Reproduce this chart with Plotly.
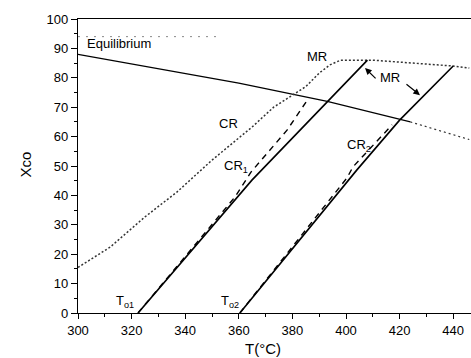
import plotly.graph_objects as go

# ---- data ----
eq_T_solid = [300, 360, 393, 424]
eq_X_solid = [88, 78.2, 72, 65]
eq_T_dot = [424, 446]
eq_X_dot = [65, 59]

cr_T = [300, 312, 325, 337, 350, 365, 373, 379, 385, 390, 394, 398, 410, 425, 440, 446]
cr_X = [15.5, 22.4, 32.7, 41.2, 52, 63.3, 70, 73.5, 77, 81.6, 84.4, 86, 86, 85, 84, 83.3]

mr1_T = [322.4, 364.9, 393, 408]
mr1_X = [0, 45.2, 71.8, 86]
mr2_T = [360.4, 404, 420, 440]
mr2_X = [0, 48.6, 65.6, 84]

cr1_T = [322.4, 349, 358.6, 364.6, 378, 386]
cr1_X = [0, 29.3, 39.5, 48, 62.2, 73]
cr2_T = [360.4, 393, 400.4, 402.6, 417.2]
cr2_X = [0, 37.8, 46, 49.7, 64]

noise_T = [300, 352]
noise_X = [94, 94]

x_ticks = [300, 320, 340, 360, 380, 400, 420, 440]
y_ticks = [0, 10, 20, 30, 40, 50, 60, 70, 80, 90, 100]

FONT = "Liberation Sans, Arial, sans-serif"

fig = go.Figure()
fig.add_trace(go.Scatter(x=noise_T, y=noise_X, mode="lines",
                         line=dict(color="#888", width=1, dash="2px,6px")))
fig.add_trace(go.Scatter(x=eq_T_solid, y=eq_X_solid, mode="lines",
                         line=dict(color="black", width=1.2)))
fig.add_trace(go.Scatter(x=eq_T_dot, y=eq_X_dot, mode="lines",
                         line=dict(color="#333", width=1.2, dash="2px,3px")))
fig.add_trace(go.Scatter(x=cr_T, y=cr_X, mode="lines",
                         line=dict(color="#333", width=1.5, dash="2px,2px")))
fig.add_trace(go.Scatter(x=mr1_T, y=mr1_X, mode="lines",
                         line=dict(color="black", width=1.6)))
fig.add_trace(go.Scatter(x=mr2_T, y=mr2_X, mode="lines",
                         line=dict(color="black", width=1.6)))
fig.add_trace(go.Scatter(x=cr1_T, y=cr1_X, mode="lines",
                         line=dict(color="black", width=1.4, dash="6px,5px")))
fig.add_trace(go.Scatter(x=cr2_T, y=cr2_X, mode="lines",
                         line=dict(color="black", width=1.4, dash="6px,5px")))

tf = dict(family=FONT, size=13, color="black")
ttf = dict(family=FONT, size=15, color="black")
ann = [
    dict(x=302.5, y=91.5, text="Equilibrium", xanchor="left", yanchor="middle", font=tf),
    dict(x=389.2, y=87.1, text="MR", font=tf),
    dict(x=416.4, y=80.0, text="MR", font=tf),
    dict(x=356, y=64.6, text="CR", font=tf),
    dict(x=359, y=49.7, text="CR<sub>1</sub>", font=tf),
    dict(x=404.9, y=57.1, text="CR<sub>2</sub>", font=tf),
    dict(x=317.5, y=3.8, text="T<sub>o1</sub>", font=tf),
    dict(x=356.7, y=3.8, text="T<sub>o2</sub>", font=tf),
]
for a in ann:
    a.update(xref="x", yref="y", showarrow=False)
    a.setdefault("xanchor", "center")
    a.setdefault("yanchor", "middle")

arrows = [
    dict(x=407.1, y=83.3, ax=411.6, ay=79.3),
    dict(x=427.6, y=74.1, ax=422.0, ay=78.2),
]
for a in arrows:
    a.update(xref="x", yref="y", axref="x", ayref="y", text="", showarrow=True,
             arrowhead=2, arrowsize=1.1, arrowwidth=1.2, arrowcolor="black")

titles = [
    dict(xref="paper", yref="paper", x=(24.5 - 78) / 393, y=(313 - 165) / 294,
         xanchor="center", yanchor="middle",
         text="Xco", textangle=-90, showarrow=False, font=ttf),
    dict(xref="paper", yref="paper", x=(262.5 - 78) / 393, y=(313 - 348) / 294,
         xanchor="center", yanchor="middle",
         text="T(°C)", showarrow=False, font=ttf),
]

fig.update_layout(
    width=471, height=358,
    margin=dict(l=78, r=0, t=19, b=45, autoexpand=False),
    paper_bgcolor="white", plot_bgcolor="white",
    showlegend=False,
    font=dict(family=FONT, size=13, color="black"),
    annotations=ann + arrows + titles,
    xaxis=dict(range=[300, 300 + (471 - 78) / 2.68], tickvals=x_ticks,
               showgrid=False, zeroline=False, showline=True, linecolor="black",
               linewidth=1.3, mirror=True, ticks="outside", ticklen=5,
               tickcolor="black", tickfont=tf,
               minor=dict(dtick=10, tick0=300, ticks="outside", ticklen=3, tickcolor="black")),
    yaxis=dict(range=[0, 100], tickvals=y_ticks,
               showgrid=False, zeroline=False, showline=True, linecolor="black",
               linewidth=1.3, ticks="outside", ticklen=6,
               tickcolor="black", tickfont=tf,
               minor=dict(dtick=5, ticks="outside", ticklen=3, tickcolor="black")),
)

fig.write_html(
    "out.html",
    config={"displayModeBar": False},
    post_script="document.body.style.margin='0';document.body.style.padding='0';"
                "document.body.style.overflow='hidden';",
)
